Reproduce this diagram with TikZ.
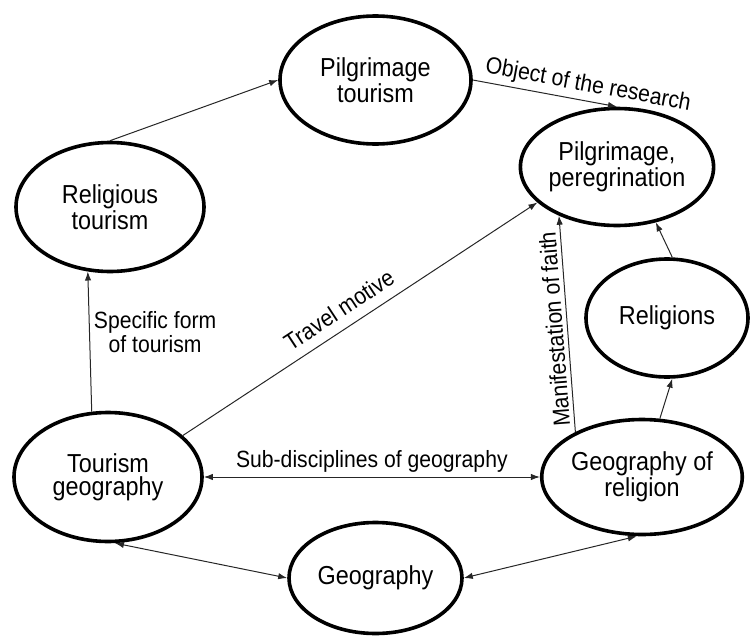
\documentclass[tikz,border=0pt]{standalone}
\usepackage{fontspec}
\setmainfont{Liberation Sans}[FakeStretch=0.9]
\usetikzlibrary{arrows.meta,shapes.geometric}

\begin{document}
\begin{tikzpicture}[x=0.5pt, y=-0.5pt,
    concept/.style={ellipse, draw, line width=1.8pt, inner sep=0pt,
        align=center, font=\fontsize{13pt}{11.5pt}\selectfont},
    flow/.style={-{Latex[length=4.5pt,width=3.2pt]}, line width=0.5pt, black!85},
    twoway/.style={{Latex[length=4.5pt,width=3.2pt]}-{Latex[length=4.5pt,width=3.2pt]},
        line width=0.5pt, black!85},
    tag/.style={font=\fontsize{11.75pt}{12pt}\selectfont, inner sep=2pt, text=black}
]
\useasboundingbox (0,0) rectangle (750,637);
\node[concept, minimum width=95.5pt, minimum height=64pt] (pilgtour) at (375.5,80)
    {Pilgrimage\\tourism};
\node[concept, minimum width=94pt, minimum height=64.5pt] (reltour) at (110,207)
    {Religious\\tourism};
\node[concept, minimum width=86pt, minimum height=58.5pt] (pilgrim) at (617,167)
    {Pilgrimage,\\peregrination};
\node[concept, minimum width=81pt, minimum height=59pt] (religions) at (667,318)
    {Religions};
\node[concept, minimum width=94pt, minimum height=64.5pt] (tourgeo) at (108,477)
    {Tourism\\geography};
\node[concept, minimum width=86.5pt, minimum height=57.5pt] (georel) at (642,477)
    {Geography of\\religion};
\node[concept, minimum width=86.5pt, minimum height=55.5pt] (geo) at (375.5,578)
    {Geography};
\draw[flow] (reltour.north) -- (pilgtour.west);
\draw[flow] (pilgtour.east) -- node[tag, pos=0.78, above, sloped] (objlbl)
    {Object of the research} (pilgrim.north);
\draw[flow] (tourgeo.104) -- node[tag, pos=0.57, right, align=center] (formlbl)
    {Specific form\\of tourism} (reltour.251);
\draw[flow] (tourgeo.29) -- node[tag, pos=0.47, above=3pt, sloped] (motivelbl)
    {Travel motive} (pilgrim.204);
\draw[flow] (georel.146) -- node[tag, pos=0.48, above, sloped, allow upside down] (faithlbl)
    {Manifestation of faith} (pilgrim.220);
\draw[flow] (georel.73) -- (religions.275); \draw[flow] (religions.85) -- (pilgrim.305);
\draw[twoway] (tourgeo.east) -- node[tag, midway, above] (sublbl)
    {Sub-disciplines of geography} (georel.west);
\draw[twoway] (tourgeo.276) -- (geo.west); \draw[twoway] (geo.east) -- (georel.265);
\end{tikzpicture}
\end{document}
